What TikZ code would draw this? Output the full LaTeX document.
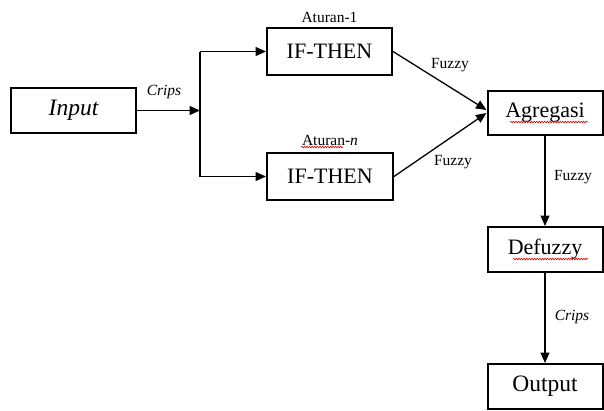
\documentclass[tikz,border=0pt]{standalone}
\usepackage{fontspec}
\setmainfont{Liberation Serif}
\usetikzlibrary{arrows.meta,decorations.pathmorphing}
\begin{document}
\begin{tikzpicture}[x=1pt,y=-1pt,
  box/.style={draw=black,line width=2pt,fill=white,inner sep=0pt,
    font=\fontsize{22}{24}\selectfont},
  lbl/.style={font=\fontsize{15.5}{17}\selectfont,inner sep=0pt},
  link/.style={draw=black,line width=1.3pt},
  arr/.style={link,-{Triangle[length=10.5pt,width=9pt]}},
  spell/.style={draw=red!85!black,line width=0.6pt,
    decorate,decoration={snake,amplitude=0.8pt,segment length=2.6pt}}]
  \useasboundingbox (0,0) rectangle (604,410);

  % blocks
  \node[box,minimum width=125pt,minimum height=45pt] (in) at (73.5,110.5)
    {\fontsize{23.5}{25}\selectfont\itshape Input};
  \node[box,minimum width=125pt,minimum height=47pt] (r1) at (329.5,51.5) {IF-THEN};
  \node[box,minimum width=126pt,minimum height=47pt] (rn) at (330,176.5) {IF-THEN};
  \node[box,minimum width=115pt,minimum height=44pt] (agr) at (545,113) {Agregasi};
  \node[box,minimum width=115pt,minimum height=45pt] (def) at (545,249.5) {Defuzzy};
  \node[box,minimum width=115pt,minimum height=45pt] (out) at (545,386.5)
    {\fontsize{23.5}{25}\selectfont Output};

  % rule labels
  \node[lbl] (l1) at (329.5,17) {Aturan-1};
  \node[lbl] (ln) at (330,140.5) {Aturan-\textit{n}};

  % branching of the crisp input
  \coordinate (j)  at (200,110.5);
  \coordinate (jt) at (200,51.5);
  \coordinate (jb) at (200,176.5);
  \draw[arr] (in.east) -- (j);
  \draw[link] (jt) -- (jb);
  \draw[arr] (jt) -- (r1.west);
  \draw[arr] (jb) -- (rn.west);
  \node[lbl,font=\fontsize{15.5}{17}\selectfont\itshape] (c1) at (164,92) {Crips};

  % rule outputs into aggregation
  \draw[arr] (r1.east) -- ([yshift=3pt]agr.west);
  \draw[arr] (rn.east) -- (agr.west);
  \node[lbl] (f1) at (450,65) {Fuzzy};
  \node[lbl] (f2) at (453,162) {Fuzzy};

  % vertical chain
  \draw[arr] (agr.south) -- (def.north);
  \draw[arr] (def.south) -- (out.north);
  \node[lbl] (f3) at (573,177) {Fuzzy};
  \node[lbl,font=\fontsize{15.5}{17}\selectfont\itshape] (c2) at (572,317) {Crips};

  % spell-check marks
  \draw[spell] (301,147) -- (343,147);
  \draw[spell] (510,122) -- (588,122);
  \draw[spell] (513,259) -- (588,259);
\end{tikzpicture}
\end{document}
